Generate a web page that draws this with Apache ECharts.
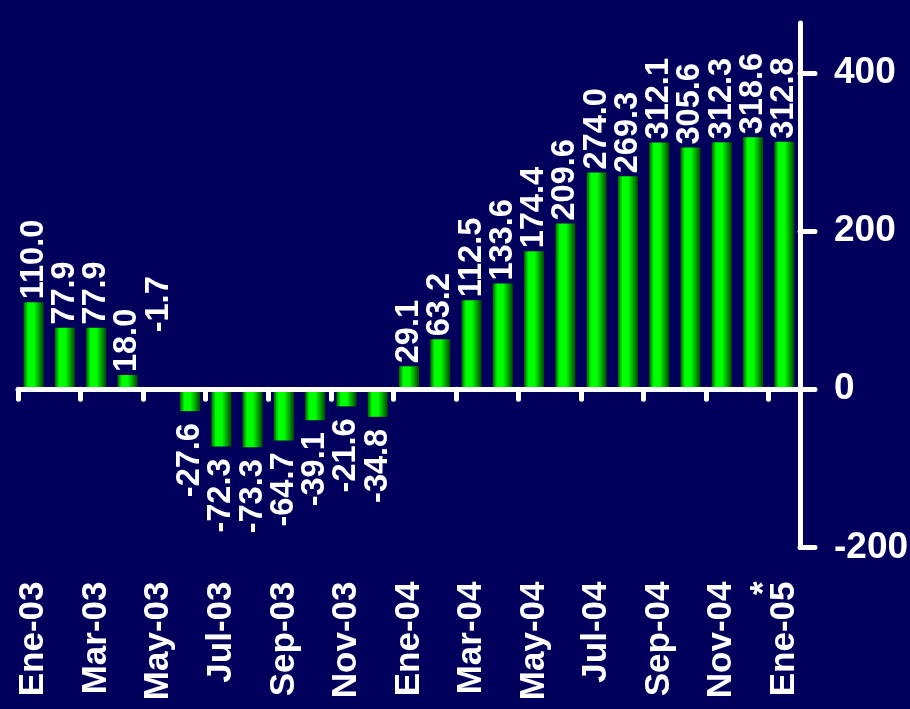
<!DOCTYPE html>
<html>
<head>
<meta charset="utf-8">
<script src="https://cdn.jsdelivr.net/npm/echarts@6/dist/echarts.min.js"></script>
<style>
html,body{margin:0;padding:0;background:#00005C;}
#c{width:910px;height:709px;}
</style>
</head>
<body>
<div id="c"></div>
<script>
const categories = ['Ene-03','Feb-03','Mar-03','Abr-03','May-03','Jun-03','Jul-03','Ago-03','Sep-03','Oct-03','Nov-03','Dic-03',
  'Ene-04','Feb-04','Mar-04','Abr-04','May-04','Jun-04','Jul-04','Ago-04','Sep-04','Oct-04','Nov-04','Dic-04','Ene-05'];
const values = [110.0, 77.9, 77.9, 18.0, -1.7, -27.6, -72.3, -73.3, -64.7, -39.1, -21.6, -34.8,
  29.1, 63.2, 112.5, 133.6, 174.4, 209.6, 274.0, 269.3, 312.1, 305.6, 312.3, 318.6, 312.8];
const tickLabels = ['Ene-03','','Mar-03','','May-03','','Jul-03','','Sep-03','','Nov-03','',
  'Ene-04','','Mar-04','','May-04','','Jul-04','','Sep-04','','Nov-04','*','Ene-05'];
const yTicks = [-200, 0, 200, 400];

const FONT = "'Liberation Sans', Arial, sans-serif";
const chart = echarts.init(document.getElementById('c'), null, {renderer: 'canvas'});

const barColor = new echarts.graphic.LinearGradient(0, 0, 1, 0, [
  {offset: 0, color: '#006400'},
  {offset: 0.22, color: '#00ff00'},
  {offset: 0.52, color: '#00ff00'},
  {offset: 1, color: '#004800'}
]);

const data = values.map(v => {
  let label;
  if (v >= 0) {
    label = {position: 'top', align: 'left', verticalAlign: 'middle', distance: 3};
  } else if (v > -5) {
    label = {position: 'top', align: 'left', verticalAlign: 'middle', distance: 57};
  } else {
    label = {position: 'bottom', align: 'right', verticalAlign: 'middle', distance: 12};
  }
  return {value: v, label: label};
});

const option = {
  backgroundColor: '#00005C',
  animation: false,
  grid: {left: 18, right: 110, top: 23, bottom: 161.5, containLabel: false, outerBoundsMode: 'none'},
  xAxis: [
    {
      type: 'category',
      data: categories,
      boundaryGap: true,
      axisLine: {show: true, onZero: true, lineStyle: {color: '#ffffff', width: 5}},
      axisTick: {show: true, interval: 1, length: 10, inside: false, lineStyle: {color: '#ffffff', width: 5, cap: 'round'}},
      axisLabel: {show: false},
      splitLine: {show: false},
      z: 10
    },
    {
      type: 'category',
      data: categories,
      position: 'bottom',
      boundaryGap: true,
      axisLine: {show: false, onZero: false},
      axisTick: {show: false},
      axisLabel: {
        show: true, interval: 0, rotate: 90, margin: 34,
        color: '#ffffff', fontSize: 35, fontWeight: 'bold', fontFamily: FONT,
        hideOverlap: false,
        formatter: (val, idx) => tickLabels[idx] === '*' ? '{s|*}' : tickLabels[idx],
        rich: {s: {color: '#ffffff', fontSize: 35, fontWeight: 'bold', fontFamily: FONT, padding: [22, 0, 0, 0]}}
      },
      splitLine: {show: false}
    }
  ],
  yAxis: {
    type: 'value',
    position: 'right',
    min: -200, max: 463, interval: 200,
    axisLine: {show: true, lineStyle: {color: '#ffffff', width: 5}},
    axisTick: {show: true, customValues: yTicks, length: 15, inside: false, lineStyle: {color: '#ffffff', width: 5, cap: 'round'}},
    axisLabel: {show: true, customValues: yTicks, margin: 34, color: '#ffffff', fontSize: 37, fontWeight: 'bold', fontFamily: FONT},
    splitLine: {show: false}
  },
  series: [{
    type: 'bar',
    xAxisIndex: 0,
    data: data,
    barWidth: 20,
    itemStyle: {color: barColor},
    label: {
      show: true, rotate: 90,
      color: '#ffffff', fontSize: 32.5, fontWeight: 'bold', fontFamily: FONT,
      formatter: p => p.value.toFixed(1)
    },
    z: 5
  }]
};
chart.setOption(option);
</script>
</body>
</html>
